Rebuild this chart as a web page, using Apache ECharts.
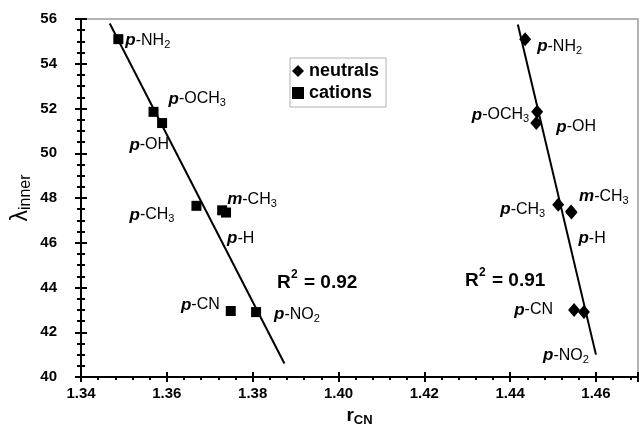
<!DOCTYPE html>
<html>
<head>
<meta charset="utf-8">
<script src="https://cdn.jsdelivr.net/npm/echarts@6/dist/echarts.min.js"></script>
<style>
  html, body { margin: 0; padding: 0; background: #fff; }
  #main { width: 641px; height: 436px; }
</style>
</head>
<body>
<div id="main"></div>
<script>
// substituents (same order for both sets)
var groups = ['p-NH2', 'p-OCH3', 'p-OH', 'p-CH3', 'm-CH3', 'p-H', 'p-CN', 'p-NO2'];

// cations (squares)
var cationR = [1.3487, 1.3569, 1.3589, 1.3669, 1.3729, 1.3738, 1.3749, 1.3808];
var cationL = [55.1, 51.85, 51.35, 47.65, 47.45, 47.35, 42.95, 42.9];

// neutrals (diamonds)
var neutralR = [1.4435, 1.4463, 1.4461, 1.4512, 1.4542, 1.4543, 1.4549, 1.4572];
var neutralL = [55.1, 51.85, 51.35, 47.7, 47.4, 47.35, 43.0, 42.9];

// fit lines, end points
var cationFitR = [1.3467, 1.3874];
var cationFitL = [55.8, 40.6];
var neutralFitR = [1.4418, 1.4600];
var neutralFitL = [55.75, 41.0];

var fitR2 = ['0.92', '0.91'];

// label placement relative to the marker (pixels)
var cationLabelPos = [
  { align: 'left', offset: [7, 1] },
  { align: 'left', offset: [15, -13] },
  { align: 'right', offset: [7, 22] },
  { align: 'right', offset: [-22, 9] },
  { align: 'left', offset: [5, -11] },
  { align: 'left', offset: [1, 26] },
  { align: 'right', offset: [-11, -6] },
  { align: 'left', offset: [18, 2] }
];
var neutralLabelPos = [
  { align: 'left', offset: [12, 7] },
  { align: 'right', offset: [-8, 3] },
  { align: 'left', offset: [20, 4] },
  { align: 'right', offset: [-13, 5] },
  { align: 'left', offset: [8, -15] },
  { align: 'left', offset: [7, 26] },
  { align: 'right', offset: [-21, 0] },
  { align: 'center', offset: [-18, 43] }
];

var FONT = '"Liberation Sans", Arial, sans-serif';

// "p-NO2" -> rich text with italic prefix and subscript digits
function richLabel(name) {
  var out = '{it|' + name.charAt(0) + '}{n|-}';
  name.slice(2).split(/(\d)/).forEach(function (p) {
    if (!p) return;
    out += /\d/.test(p) ? '{sub|' + p + '}' : '{n|' + p + '}';
  });
  return out;
}

var labelRich = {
  it: { fontFamily: FONT, fontSize: 17, fontWeight: 'bold', fontStyle: 'italic', color: '#000' },
  n: { fontFamily: FONT, fontSize: 16, color: '#000' },
  sub: { fontFamily: FONT, fontSize: 11, color: '#000', verticalAlign: 'bottom', padding: [9, 0, 0, 0] }
};

function buildPoints(rs, ls, pos) {
  return rs.map(function (r, i) {
    return {
      value: [r, ls[i]],
      label: {
        show: true,
        position: 'inside',
        align: pos[i].align,
        verticalAlign: 'middle',
        offset: pos[i].offset,
        formatter: richLabel(groups[i]),
        rich: labelRich
      }
    };
  });
}

function pairs(xs, ys) {
  return xs.map(function (x, i) { return [x, ys[i]]; });
}

// "R² = 0.92" built from three text pieces so the 2 sits high
function r2Text(left, top, value) {
  return {
    type: 'group', left: left, top: top,
    children: [
      { type: 'text', x: 0, y: 0, style: { text: 'R', font: 'bold 19px ' + FONT, fill: '#000' } },
      { type: 'text', x: 14, y: -4, style: { text: '2', font: 'bold 12px ' + FONT, fill: '#000' } },
      { type: 'text', x: 27, y: 0, style: { text: '= ' + value, font: 'bold 19px ' + FONT, fill: '#000' } }
    ]
  };
}

var chart = echarts.init(document.getElementById('main'));

var option = {
  animation: false,
  backgroundColor: '#fff',
  grid: {
    left: 81, top: 19, right: 3, bottom: 59,
    outerBoundsMode: 'none', containLabel: false,
    show: true, borderColor: '#9a9a9a', borderWidth: 1.5
  },
  legend: {
    orient: 'vertical',
    left: 290, top: 58,
    itemWidth: 12, itemHeight: 12,
    itemGap: 4,
    padding: [4, 7, 5, 2],
    borderColor: '#b0b0b0', borderWidth: 1,
    textStyle: { fontFamily: FONT, fontSize: 18, fontWeight: 'bold', color: '#000' },
    data: [
      { name: 'neutrals', icon: 'diamond' },
      { name: 'cations', icon: 'rect' }
    ]
  },
  xAxis: [{
    type: 'value', min: 1.34, max: 1.4698, interval: 0.02,
    name: '{r|r}{s|CN}', nameLocation: 'middle', nameGap: 22,
    nameTextStyle: {
      rich: {
        r: { fontFamily: FONT, fontSize: 19, fontWeight: 'bold', color: '#000' },
        s: { fontFamily: FONT, fontSize: 13, fontWeight: 'bold', color: '#000', verticalAlign: 'bottom', padding: [10, 0, 0, 0] }
      }
    },
    axisLine: { show: true, lineStyle: { color: '#000', width: 2 } },
    axisTick: { show: true, inside: false, length: 5, lineStyle: { color: '#000', width: 2 } },
    minorTick: { show: true, splitNumber: 5, length: 3, lineStyle: { color: '#000', width: 2 } },
    axisLabel: {
      margin: 9, showMaxLabel: false,
      formatter: function (v) { return v.toFixed(2); },
      fontFamily: FONT, fontSize: 15, fontWeight: 'bold', color: '#000'
    },
    splitLine: { show: false }
  }, {
    type: 'value', position: 'bottom', min: 1.34, max: 1.4698, interval: 0.02,
    axisLine: { show: false },
    axisTick: { show: true, inside: true, length: 5, lineStyle: { color: '#000', width: 2 } },
    axisLabel: { show: false },
    splitLine: { show: false }
  }],
  yAxis: [{
    type: 'value', min: 40, max: 56, interval: 2,
    name: '{l|λ}{s|inner}', nameLocation: 'middle', nameGap: 47, nameMoveOverlap: false,
    nameTextStyle: {
      rich: {
        l: { fontFamily: FONT, fontSize: 23, color: '#000' },
        s: { fontFamily: FONT, fontSize: 16, color: '#000', verticalAlign: 'bottom', padding: [10, 0, 0, 0] }
      }
    },
    axisLine: { show: true, lineStyle: { color: '#000', width: 2 } },
    axisTick: { show: true, inside: false, length: 6, lineStyle: { color: '#000', width: 2 } },
    minorTick: { show: true, splitNumber: 4, length: 4, lineStyle: { color: '#000', width: 2 } },
    axisLabel: { margin: 24, fontFamily: FONT, fontSize: 15, fontWeight: 'bold', color: '#000' },
    splitLine: { show: false }
  }, {
    type: 'value', position: 'left', min: 40, max: 56, interval: 2,
    axisLine: { show: false },
    axisTick: { show: true, inside: true, length: 6, lineStyle: { color: '#000', width: 2 } },
    minorTick: { show: true, splitNumber: 4, length: 4, lineStyle: { color: '#000', width: 2 } },
    axisLabel: { show: false },
    splitLine: { show: false }
  }],
  graphic: [
    r2Text(277, 269, fitR2[0]),
    r2Text(465, 267, fitR2[1])
  ],
  series: [
    {
      name: 'cations fit', type: 'line', data: pairs(cationFitR, cationFitL),
      symbol: 'none', lineStyle: { color: '#000', width: 2 }, silent: true, z: 1
    },
    {
      name: 'neutrals fit', type: 'line', data: pairs(neutralFitR, neutralFitL),
      symbol: 'none', lineStyle: { color: '#000', width: 2 }, silent: true, z: 1
    },
    {
      name: 'neutrals', type: 'scatter', symbol: 'diamond', symbolSize: [12, 14],
      itemStyle: { color: '#000', opacity: 1 },
      data: buildPoints(neutralR, neutralL, neutralLabelPos), z: 3
    },
    {
      name: 'cations', type: 'scatter', symbol: 'rect', symbolSize: 10,
      itemStyle: { color: '#000', opacity: 1 },
      data: buildPoints(cationR, cationL, cationLabelPos), z: 3
    }
  ]
};

chart.setOption(option);
</script>
</body>
</html>
